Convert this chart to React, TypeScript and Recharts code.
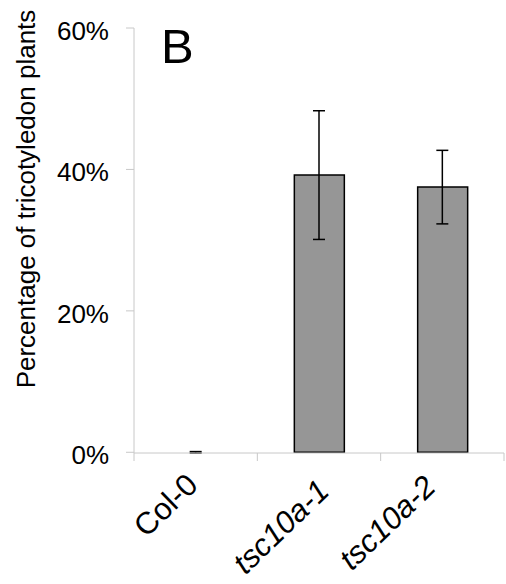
import { ComposedChart, Bar, Line, XAxis, YAxis, ErrorBar, Customized } from 'recharts'

const CATEGORIES = ['Col-0', 'tsc10a-1', 'tsc10a-2']
const ITALIC = [false, true, true]
const PERCENT = [0, 39.2, 37.5]
const ERROR = [0.1, 9.1, 5.2]
const Y_TICKS = [0, 20, 40, 60]

const data = CATEGORIES.map((name, i) => ({ name, value: PERCENT[i], err: ERROR[i] }))

const W = 506
const H = 584
const LEFT = 134
const RIGHT = 2
const TOP = 28
const X_AXIS_H = 131
const BAND = (W - LEFT - RIGHT) / CATEGORIES.length
const AXIS_COLOR = '#c8c8c8'
const FONT = '"Liberation Sans", Arial, sans-serif'
// label placement tweaks (end of baseline relative to band centre)
const LABEL_NUDGE = [[4, 34], [12, 40], [-5, 36]]

function CategoryTick(props: any) {
  const { x, y, payload, index } = props
  const [dx, dy] = LABEL_NUDGE[index] ?? [0, 35]
  return (
    <g>
      <line x1={x - BAND / 2} y1={y} x2={x - BAND / 2} y2={y + 8} stroke={AXIS_COLOR} />
      {index === CATEGORIES.length - 1 && (
        <line x1={x + BAND / 2} y1={y} x2={x + BAND / 2} y2={y + 8} stroke={AXIS_COLOR} />
      )}
      <g transform={`translate(${x + dx}, ${y + dy}) rotate(-44)`}>
        <text
          x={0}
          y={0}
          textAnchor="end"
          fontSize={31}
          fontStyle={ITALIC[index] ? 'italic' : 'normal'}
          fill="#000"
          fontFamily={FONT}
        >
          {payload.value}
        </text>
      </g>
    </g>
  )
}

function ValueTick(props: any) {
  const { x, y, payload } = props
  return (
    <text x={x} y={y + 12} textAnchor="end" fontSize={26} fill="#000" fontFamily={FONT}>
      {`${payload.value}%`}
    </text>
  )
}

function Titles() {
  return (
    <g fontFamily={FONT} fill="#000">
      <g transform="translate(35, 199) rotate(-90)">
        <text x={0} y={0} textAnchor="middle" fontSize={26}>
          Percentage of tricotyledon plants
        </text>
      </g>
      <text x={161} y={63} fontSize={49}>B</text>
    </g>
  )
}

export default function App() {
  return (
    <div style={{ position: 'absolute', left: 0, top: 0, width: W, height: H, background: '#fff' }}>
      <ComposedChart width={W} height={H} data={data} margin={{ top: TOP, right: RIGHT, left: 0, bottom: 0 }}>
        <XAxis
          dataKey="name"
          height={X_AXIS_H}
          stroke={AXIS_COLOR}
          tickLine={false}
          tickSize={0}
          tickMargin={0}
          tick={<CategoryTick />}
          interval={0}
        />
        <YAxis
          width={LEFT}
          domain={[0, 60]}
          ticks={Y_TICKS}
          stroke={AXIS_COLOR}
          tickSize={8}
          tickMargin={17}
          tick={<ValueTick />}
        />
        <Bar dataKey="value" fill="#969696" stroke="#000" strokeWidth={1.5} barSize={50} isAnimationActive={false} />
        <Line dataKey="value" stroke="none" dot={false} activeDot={false} legendType="none" isAnimationActive={false}>
          <ErrorBar dataKey="err" width={6} stroke="#000" strokeWidth={1.5} direction="y" isAnimationActive={false} />
        </Line>
        <Customized component={Titles} />
      </ComposedChart>
    </div>
  )
}
